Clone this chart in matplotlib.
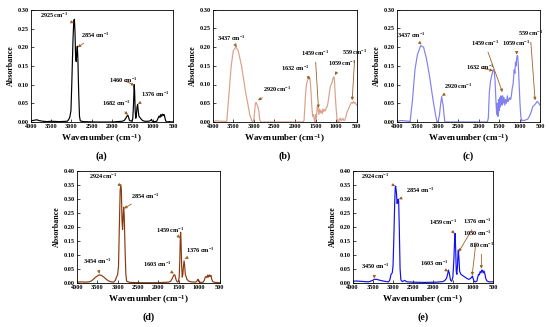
import matplotlib
matplotlib.use("Agg")
import matplotlib.pyplot as plt

plt.rcParams['font.family'] = ['Liberation Serif', 'DejaVu Serif']
plt.rcParams['font.weight'] = 'bold'
plt.rcParams['mathtext.fontset'] = 'custom'
plt.rcParams['mathtext.rm'] = 'Liberation Serif:bold'
plt.rcParams['mathtext.it'] = 'Liberation Serif:bold'
plt.rcParams['mathtext.bf'] = 'Liberation Serif:bold'

# ---------------- data ----------------
wn_a = [4000, 3900, 3850, 3800, 3700, 3600, 3500, 3300, 3100, 3070, 3040, 3010, 2990, 2960, 2940,
        2925, 2910, 2895, 2880, 2865, 2854, 2840, 2820, 2800, 2780, 2700, 2400, 2000, 1750, 1700,
        1660, 1630, 1610, 1590, 1570, 1520, 1490, 1470, 1455, 1445, 1430, 1415, 1400, 1385, 1370,
        1360, 1340, 1300, 1250, 1200, 1100, 1050, 1030, 1010, 950, 900, 860, 840, 820, 800, 780,
        760, 740, 720, 700, 680, 650, 600, 500]
ab_a = [0.003, 0.005, 0.006, 0.004, 0.002, 0.001, 0.002, 0.001, 0.002, 0.006, 0.012, 0.03, 0.10, 0.22, 0.272,
        0.275, 0.24, 0.17, 0.162, 0.19, 0.203, 0.17, 0.08, 0.015, 0.003, 0.001, 0.0, 0.0, 0.002, 0.004,
        0.010, 0.016, 0.018, 0.012, 0.004, 0.002, 0.008, 0.05, 0.10, 0.085, 0.03, 0.01, 0.02, 0.04, 0.047,
        0.035, 0.016, 0.01, 0.004, 0.002, 0.002, 0.004, 0.007, 0.002, 0.001, 0.002, 0.012, 0.016, 0.012, 0.02, 0.015,
        0.021, 0.018, 0.02, 0.012, 0.003, 0.0, 0.001, 0.0]

wn_b = [4000, 3900, 3800, 3700, 3660, 3600, 3550, 3500, 3440, 3380, 3300, 3200, 3100, 3050, 3028,
        3000, 2980, 2960, 2945, 2920, 2900, 2880, 2860, 2840, 2500, 2000, 1800, 1780, 1760, 1740,
        1720, 1700, 1670, 1650, 1630, 1610, 1590, 1570, 1550, 1530, 1515, 1500, 1480, 1460, 1440,
        1420, 1400, 1380, 1360, 1340, 1320, 1300, 1280, 1260, 1240, 1220, 1200, 1180, 1160, 1140,
        1120, 1100, 1080, 1060, 1050, 1040, 1020, 1000, 980, 960, 940, 920, 900, 880, 860, 840, 820,
        800, 780, 760, 740, 720, 700, 680, 660, 640, 620, 600, 580, 560, 540, 520, 500]
ab_b = [0.002, 0.003, 0.002, 0.002, 0.0, 0.08, 0.15, 0.19, 0.20, 0.19, 0.15, 0.08, 0.02, 0.003, 0.0,
        0.005, 0.03, 0.05, 0.052, 0.045, 0.04, 0.03, 0.01, 0.0, 0.0, 0.0, 0.0, 0.005, 0.04, 0.08,
        0.10, 0.11, 0.116, 0.118, 0.11, 0.08, 0.04, 0.015, 0.02, 0.005, 0.0, 0.02, 0.01, 0.04, 0.035,
        0.02, 0.035, 0.025, 0.03, 0.022, 0.035, 0.028, 0.033, 0.03, 0.038, 0.04, 0.05, 0.065, 0.08, 0.095,
        0.10, 0.105, 0.115, 0.12, 0.12, 0.11, 0.07, 0.035, 0.01, 0.002, 0.0, 0.008, 0.01, 0.003, 0.006, 0.01, 0.005,
        0.004, 0.008, 0.015, 0.025, 0.03, 0.035, 0.04, 0.045, 0.05, 0.052, 0.05, 0.055, 0.05, 0.052, 0.048, 0.045]

wn_c = [4000, 3900, 3800, 3700, 3680, 3620, 3560, 3500, 3420, 3350, 3280, 3200, 3120, 3050, 3019,
        2990, 2960, 2930, 2905, 2890, 2870, 2850, 2830, 2500, 2000, 1790, 1765, 1740, 1710, 1680,
        1645, 1620, 1600, 1580, 1560, 1545, 1530, 1515, 1500, 1485, 1470, 1460, 1445, 1430, 1415,
        1400, 1380, 1360, 1340, 1320, 1300, 1280, 1260, 1240, 1220, 1200, 1180, 1160, 1145, 1130,
        1115, 1100, 1085, 1070, 1055, 1045, 1030, 1010, 990, 970, 950, 920, 880, 840, 800, 760,
        720, 680, 640, 600, 570, 540, 500]
ab_c = [0.002, 0.004, 0.003, 0.002, 0.0, 0.06, 0.14, 0.18, 0.204, 0.20, 0.17, 0.12, 0.06, 0.015, 0.0,
        0.002, 0.02, 0.05, 0.068, 0.055, 0.045, 0.02, 0.0, 0.0, 0.0, 0.0, 0.01, 0.08, 0.11, 0.125,
        0.14, 0.135, 0.11, 0.06, 0.02, 0.05, 0.015, 0.06, 0.03, 0.065, 0.04, 0.07, 0.065, 0.045, 0.07,
        0.05, 0.065, 0.045, 0.06, 0.05, 0.07, 0.055, 0.06, 0.065, 0.06, 0.07, 0.09, 0.10, 0.12, 0.14,
        0.13, 0.16, 0.15, 0.17, 0.178, 0.175, 0.15, 0.10, 0.05, 0.015, 0.003, 0.005, 0.004, 0.006, 0.008, 0.015,
        0.025, 0.04, 0.045, 0.05, 0.055, 0.052, 0.045]

wn_d = [4000, 3900, 3800, 3700, 3650, 3600, 3540, 3480, 3450, 3400, 3340, 3280, 3220, 3160, 3100,
        3060, 3030, 3000, 2980, 2960, 2940, 2924, 2910, 2895, 2880, 2865, 2854, 2840, 2820, 2800,
        2780, 2700, 2400, 2000, 1750, 1700, 1660, 1630, 1610, 1590, 1570, 1540, 1510, 1490, 1475,
        1465, 1455, 1445, 1430, 1415, 1400, 1385, 1370, 1355, 1340, 1300, 1250, 1200, 1100, 1060,
        1040, 1025, 1010, 990, 950, 900, 870, 850, 830, 810, 790, 770, 750, 730, 710, 690, 660,
        600, 500]
ab_d = [0.002, 0.003, 0.002, 0.003, 0.006, 0.012, 0.02, 0.026, 0.028, 0.026, 0.02, 0.012, 0.006, 0.003, 0.002,
        0.008, 0.02, 0.03, 0.06, 0.20, 0.33, 0.35, 0.33, 0.22, 0.19, 0.24, 0.27, 0.24, 0.12, 0.03,
        0.005, 0.001, 0.0, 0.0, 0.002, 0.005, 0.015, 0.025, 0.029, 0.025, 0.012, 0.003, 0.003, 0.02, 0.08,
        0.15, 0.18, 0.15, 0.06, 0.02, 0.03, 0.06, 0.078, 0.06, 0.03, 0.012, 0.005, 0.003, 0.002, 0.004,
        0.01, 0.012, 0.004, 0.002, 0.001, 0.002, 0.01, 0.02, 0.022, 0.018, 0.027, 0.02, 0.028, 0.022, 0.026, 0.012, 0.003,
        0.001, 0.0]

wn_e = [4000, 3900, 3800, 3700, 3600, 3500, 3460, 3400, 3300, 3200, 3100, 3070, 3040, 3010, 2990,
        2970, 2950, 2935, 2924, 2905, 2890, 2875, 2860, 2850, 2835, 2815, 2795, 2760, 2700, 2640,
        2500, 2200, 1900, 1750, 1700, 1660, 1630, 1611, 1590, 1560, 1530, 1500, 1475, 1455, 1444,
        1430, 1415, 1400, 1385, 1370, 1362, 1350, 1330, 1300, 1250, 1200, 1150, 1100, 1060, 1030,
        1012, 995, 970, 940, 900, 880, 860, 840, 820, 800, 780, 763, 745, 725, 700, 680, 650, 600,
        550, 500]
ab_e = [0.005, 0.006, 0.005, 0.004, 0.003, 0.008, 0.012, 0.012, 0.008, 0.005, 0.003, 0.01, 0.03, 0.035, 0.06,
        0.16, 0.28, 0.34, 0.345, 0.32, 0.283, 0.29, 0.298, 0.29, 0.2, 0.05, 0.01, 0.004, 0.008, 0.003,
        0.002, 0.001, 0.002, 0.004, 0.008, 0.015, 0.03, 0.045, 0.035, 0.01, 0.005, 0.02, 0.08, 0.16, 0.176,
        0.12, 0.04, 0.03, 0.06, 0.11, 0.117, 0.09, 0.04, 0.03, 0.025, 0.02, 0.015, 0.012, 0.015, 0.02,
        0.024, 0.015, 0.005, 0.003, 0.006, 0.02, 0.03, 0.028, 0.04, 0.035, 0.045, 0.044, 0.035, 0.042, 0.03, 0.015, 0.006, 0.003,
        0.003, 0.003]

ann_a = [("2925 cm$^{-1}$", 2940, 0.265, 3430, 0.287),
         ("2854 cm$^{-1}$", 2845, 0.200, 2400, 0.233),
         ("1460 cm$^{-1}$", 1450, 0.098, 1720, 0.112),
         ("1682 cm$^{-1}$", 1610, 0.019, 1890, 0.050),
         ("1376 cm$^{-1}$", 1365, 0.048, 940, 0.074)]
ann_b = [("3437 cm$^{-1}$", 3420, 0.200, 3540, 0.222),
         ("2920 cm$^{-1}$", 2900, 0.058, 2440, 0.086),
         ("1632 cm$^{-1}$", 1620, 0.115, 2000, 0.143),
         ("1459 cm$^{-1}$", 1430, 0.037, 1510, 0.183),
         ("1059 cm$^{-1}$", 1030, 0.125, 860, 0.156),
         ("559 cm$^{-1}$", 610, 0.058, 540, 0.187)]
ann_c = [("3437 cm$^{-1}$", 3400, 0.207, 3640, 0.232),
         ("2920 cm$^{-1}$", 2900, 0.070, 2500, 0.096),
         ("1632 cm$^{-1}$", 1650, 0.137, 1970, 0.145),
         ("1459 cm$^{-1}$", 1420, 0.080, 1850, 0.210),
         ("1059 cm$^{-1}$", 1070, 0.180, 1073, 0.210),
         ("559 cm$^{-1}$", 620, 0.058, 740, 0.237)]
ann_d = [("2924 cm$^{-1}$", 2905, 0.345, 3350, 0.381),
         ("2854 cm$^{-1}$", 2845, 0.265, 2330, 0.310),
         ("3454 cm$^{-1}$", 3450, 0.032, 3510, 0.075),
         ("1603 cm$^{-1}$", 1620, 0.033, 2040, 0.067),
         ("1459 cm$^{-1}$", 1465, 0.160, 1710, 0.188),
         ("1376 cm$^{-1}$", 1350, 0.085, 970, 0.114)]
ann_e = [("2924 cm$^{-1}$", 2935, 0.345, 3440, 0.379),
         ("2854 cm$^{-1}$", 2845, 0.298, 2320, 0.331),
         ("3450 cm$^{-1}$", 3460, 0.015, 3440, 0.057),
         ("1603 cm$^{-1}$", 1620, 0.040, 1950, 0.069),
         ("1459 cm$^{-1}$", 1455, 0.175, 1740, 0.214),
         ("1376 cm$^{-1}$", 1355, 0.110, 900, 0.220),
         ("1030 cm$^{-1}$", 1020, 0.026, 900, 0.175),
         ("810 cm$^{-1}$", 790, 0.050, 790, 0.133)]

xticks = [4000, 3500, 3000, 2500, 2000, 1500, 1000, 500]
yticks_top = [0.00, 0.05, 0.10, 0.15, 0.20, 0.25, 0.30]
yticks_bot = [0.00, 0.05, 0.10, 0.15, 0.20, 0.25, 0.30, 0.35, 0.40]

W, H = 550, 327
fig = plt.figure(figsize=(W / 100, H / 100), dpi=100)

ARROW = '#9a6324'

def make_panel(px, wn, ab, color, ymax, yticks, anns, label):
    l, t, r, b = px
    ax = fig.add_axes([l / W, 1 - b / H, (r - l) / W, (b - t) / H])
    ax.plot(wn, ab, color=color, lw=0.85)
    ax.set_xlim(4000, 500)
    ax.set_ylim(0, ymax)
    ax.set_xticks(xticks)
    ax.set_yticks(yticks)
    ax.set_yticklabels([f"{v:.2f}" for v in yticks])
    ax.tick_params(direction='in', length=2, width=0.5, labelsize=4.5, pad=1.5)
    for s in ax.spines.values():
        s.set_linewidth(0.6)
    ax.set_xlabel("Wavenumber (cm$^{-1}$)", fontsize=6.5, fontweight='bold', labelpad=2.5)
    ax.set_ylabel("Absorbance", fontsize=5.7, fontweight='bold', labelpad=2)
    for txt, x0, y0, x1, y1 in anns:
        ax.annotate(txt, xy=(x0, y0), xytext=(x1, y1), fontsize=4.5, fontweight='bold',
                    ha='center', va='center',
                    arrowprops=dict(arrowstyle='-|>', color=ARROW, lw=0.6,
                                    mutation_scale=4, shrinkA=1, shrinkB=0))
    cx = (l + r) / 2
    fig.text(cx / W, 1 - (b + 34) / H, label, ha='center', va='center',
             fontsize=7.2, fontweight='bold')
    return ax

make_panel((30.7, 10, 173, 122), wn_a, ab_a, 'black', 0.30, yticks_top, ann_a, "(a)")
make_panel((212.7, 9.5, 356.7, 122), wn_b, ab_b, '#dba08a', 0.30, yticks_top, ann_b, "(b)")
make_panel((397, 9.7, 540, 122), wn_c, ab_c, '#8080f0', 0.30, yticks_top, ann_c, "(c)")
make_panel((77, 170.7, 219.5, 282.7), wn_d, ab_d, '#8b3a10', 0.40, yticks_bot, ann_d, "(d)")
make_panel((352.5, 170.7, 493, 282.7), wn_e, ab_e, '#1010f0', 0.40, yticks_bot, ann_e, "(e)")

fig.savefig("out.png", dpi=100)
